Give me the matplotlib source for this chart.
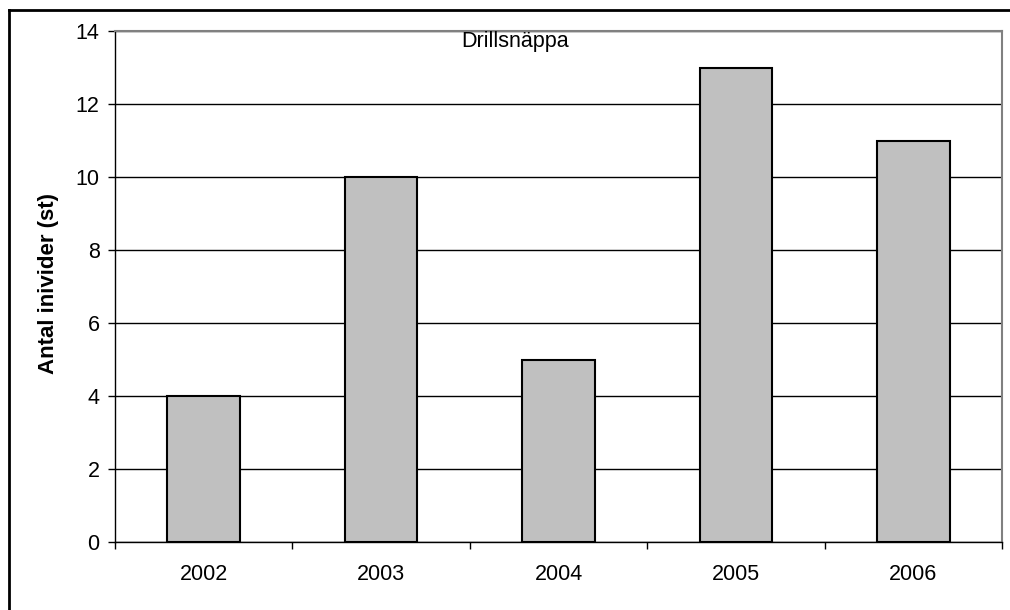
import matplotlib
matplotlib.use("Agg")
import matplotlib.pyplot as plt
from matplotlib.lines import Line2D

years = ["2002", "2003", "2004", "2005", "2006"]
counts = [4, 10, 5, 13, 11]
yticks = [0, 2, 4, 6, 8, 10, 12, 14]
title = "Drillsnäppa"
ylabel = "Antal inivider (st)"

plt.rcParams['font.family'] = ['Liberation Sans', 'DejaVu Sans']
FS = 15.5

fig = plt.figure(figsize=(10.1, 6.1), dpi=100)
ax = fig.add_axes([115/1010, 1 - 542/610, (1002-115)/1010, (542-31)/610])

x = list(range(len(years)))
ax.bar(x, counts, width=0.41, color="#C0C0C0", edgecolor="black", linewidth=1.5, zorder=3)
ax.set_xlim(-0.5, len(years) - 0.5)
ax.set_ylim(0, 14)
ax.set_yticks(yticks)
ax.set_yticklabels([str(v) for v in yticks], fontsize=FS)
ax.set_xticks([i - 0.5 for i in range(len(years) + 1)])
ax.set_xticklabels([])
ax.set_xticks(x, minor=True)
ax.set_xticklabels(years, minor=True, fontsize=FS)
ax.tick_params(axis='x', which='minor', length=0, pad=16)
ax.tick_params(axis='x', which='major', length=5, width=1, direction='out')
ax.tick_params(axis='y', length=5, width=1, direction='out', pad=6)
ax.yaxis.grid(True, color="black", linewidth=1, zorder=0)
ax.set_axisbelow(True)
for s in ['top', 'right']:
    ax.spines[s].set_color("#808080")
    ax.spines[s].set_linewidth(1.5)
for s in ['left', 'bottom']:
    ax.spines[s].set_color("black")
    ax.spines[s].set_linewidth(1)

fig.text(515/1010, 1 - 41/610, title, ha='center', va='center', fontsize=FS)
fig.text(49/1010, 1 - 284/610, ylabel, rotation=90, ha='center', va='center',
         fontsize=16, fontweight='bold')

# outer frame lines (left and top)
fig.add_artist(Line2D([9/1010, 9/1010], [0, 1 - 10/610], transform=fig.transFigure, color='black', linewidth=2))
fig.add_artist(Line2D([9/1010, 1], [1 - 10/610, 1 - 10/610], transform=fig.transFigure, color='black', linewidth=2))

fig.savefig("out.png", dpi=100)
